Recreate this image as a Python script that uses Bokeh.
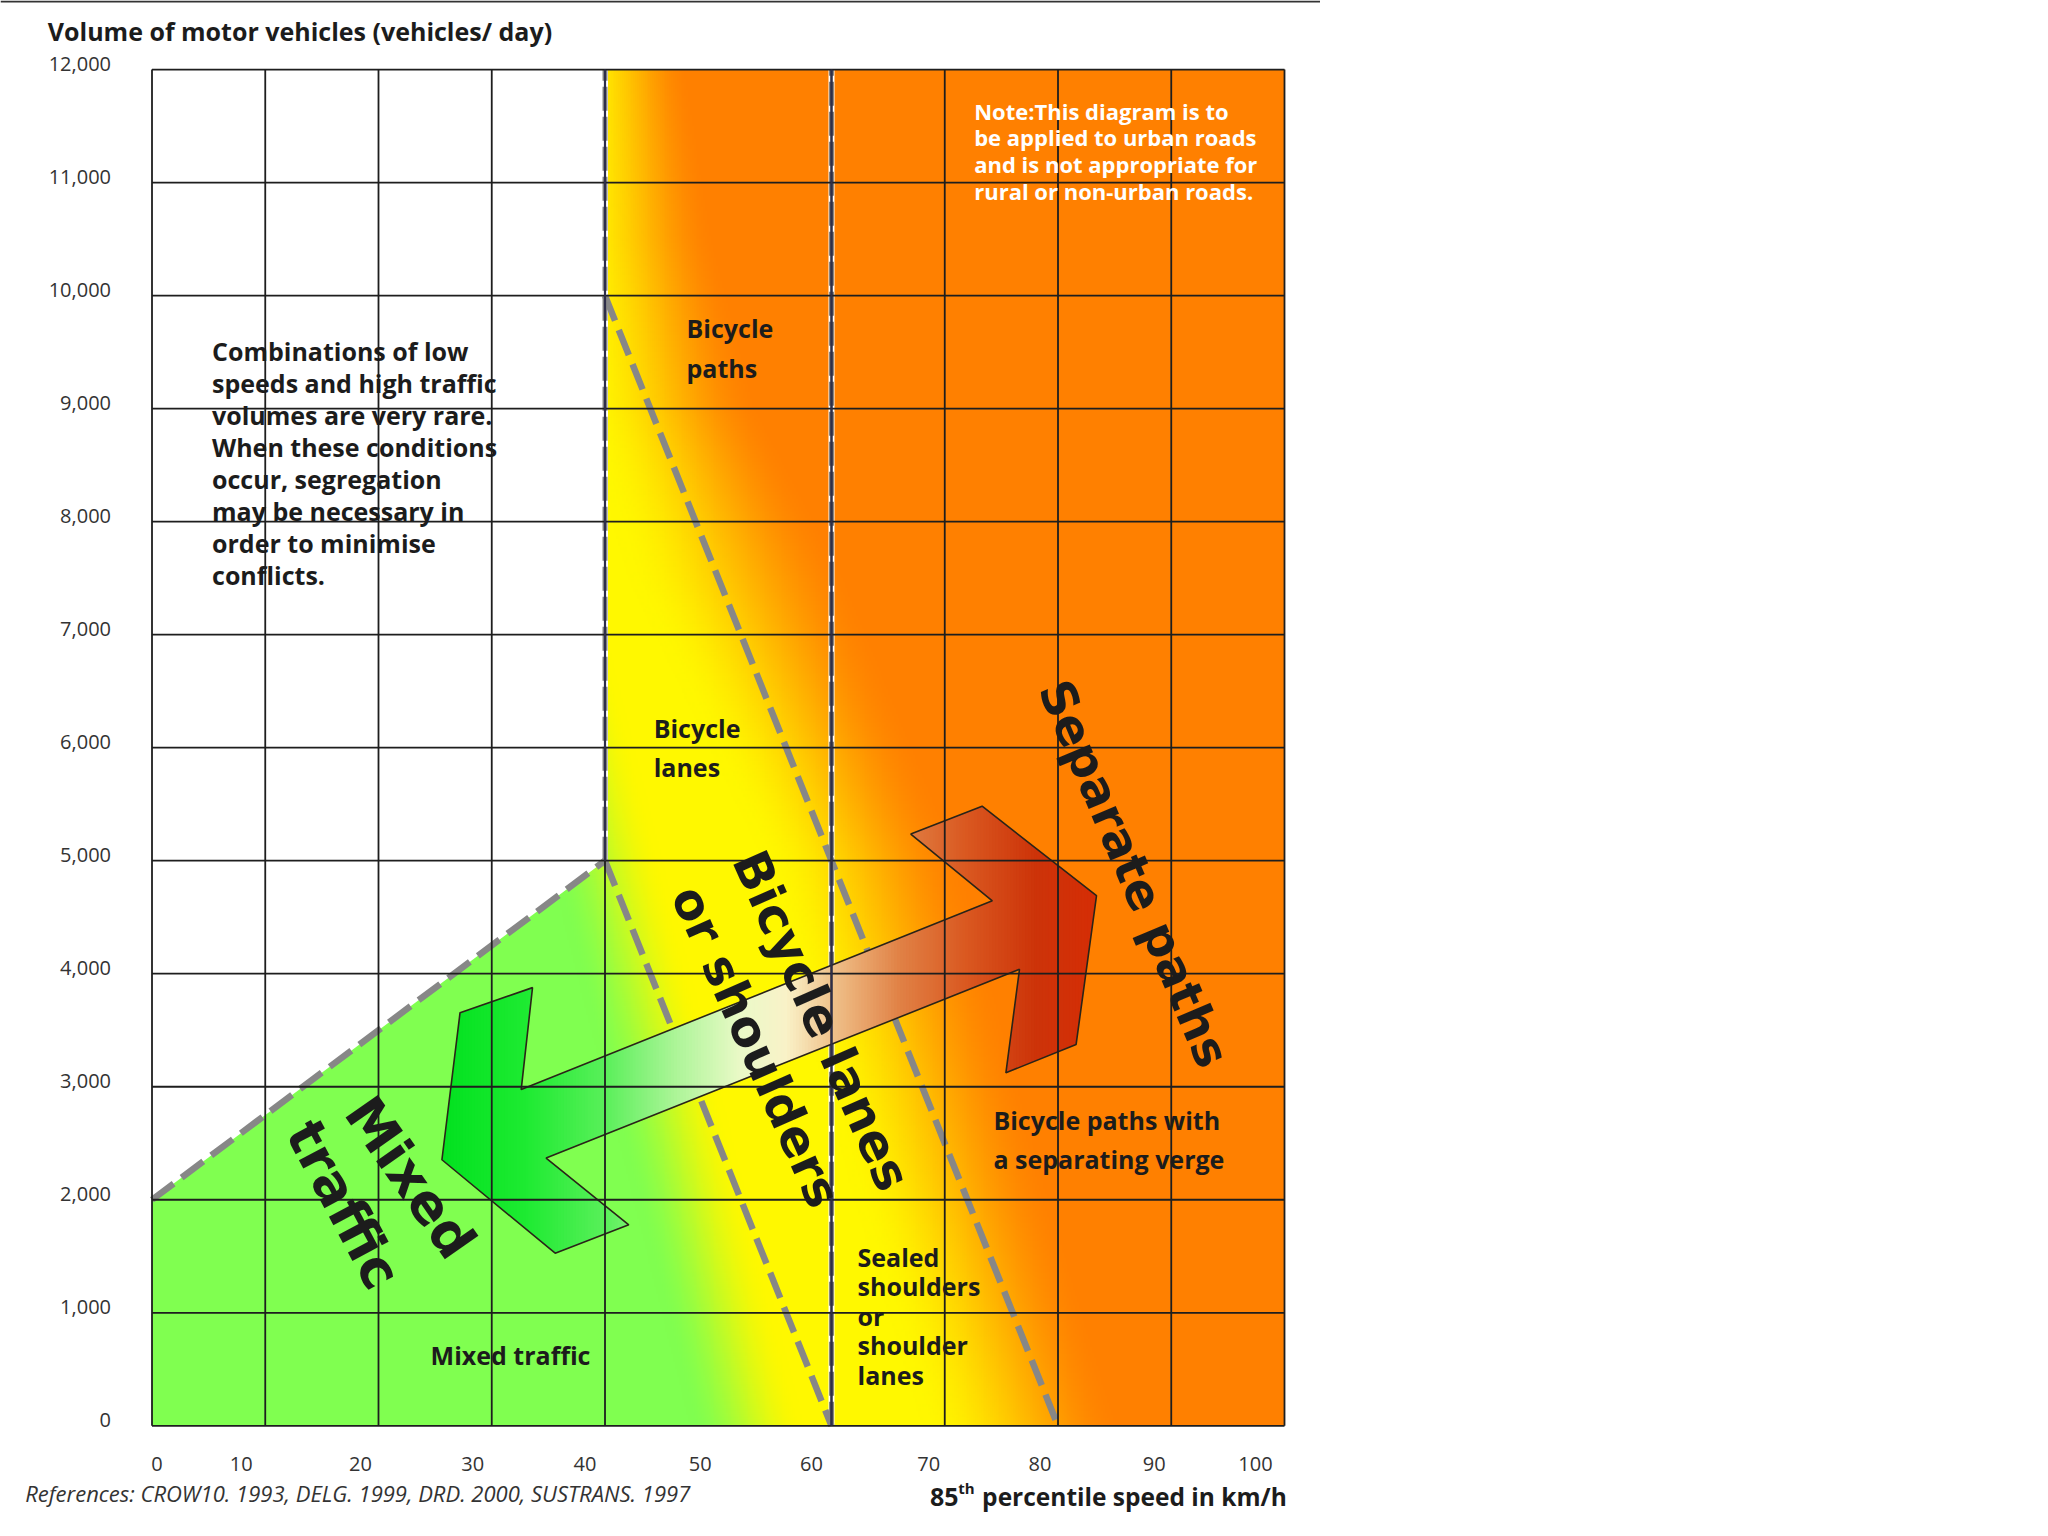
import numpy as np
from bokeh.plotting import figure
from bokeh.models import Range1d, Span
from bokeh.core.properties import value
from bokeh.embed import file_html
from bokeh.resources import INLINE

# ---------------- data ----------------
speed_ticks = [0, 10, 20, 30, 40, 50, 60, 70, 80, 90, 100]
speed_tick_labels = ["0", "10", "20", "30", "40", "50", "60", "70", "80", "90", "100"]
speed_gridlines = [0, 10, 20, 30, 40, 60, 70, 80, 90, 100]
volume_ticks = [0, 1000, 2000, 3000, 4000, 5000, 6000, 7000, 8000, 9000, 10000, 11000, 12000]
volume_tick_labels = ["0", "1,000", "2,000", "3,000", "4,000", "5,000", "6,000",
                      "7,000", "8,000", "9,000", "10,000", "11,000", "12,000"]

# zone boundaries (85th percentile speed km/h, vehicles/day)
mixed_limit_speed = [0, 40]
mixed_limit_volume = [2000, 5000]
lanes_limit_speed = [40, 60]
lanes_limit_volume = [5000, 0]
paths_limit_speed = [40, 80]
paths_limit_volume = [10000, 0]
divider_speed = [40, 60]
divider_from_volume = [5000, 0]
divider_to_volume = [12000, 12000]

# double-headed arrow outline
arrow_speed = [33.6, 32.6, 74.2, 67.0, 73.3, 83.4, 81.6, 75.4, 76.6, 34.8, 42.1, 35.6, 25.6, 27.2]
arrow_volume = [3877, 2975, 4645, 5236, 5482, 4690, 3374, 3123, 4039, 2369, 1778, 1527, 2354, 3655]

# ---------------- styling constants ----------------
TEXT = "#1c1c1c"
GRID = "#1e1e1e"
DASH = "#878787"
x_label_nudge_px = [5, -24, -18, -19, -20, -18, -20, -16, -18, -17, -29]

W, H = 1320, 1520
PX_X = 11.325      # px per km/h
PX_Y = 0.11302     # px per vehicle/day
X0_PX, Y0_PX = 151.5, 1425.3   # position of data origin inside the canvas

p = figure(width=W, height=H, output_backend="svg", toolbar_location=None,
           x_axis_location=None, y_axis_location=None, min_border=0,
           x_range=Range1d(-X0_PX / PX_X, (W - X0_PX) / PX_X),
           y_range=Range1d((Y0_PX - H) / PX_Y, Y0_PX / PX_Y))
p.grid.visible = False
p.outline_line_color = None
p.background_fill_color = "white"
p.border_fill_color = "white"

vmax = max(volume_ticks)
smax = max(speed_ticks)

# ---------------- background colour field ----------------
nx, ny = 600, 720
gx = (np.arange(nx) + 0.5) / nx * smax
gy = (np.arange(ny) + 0.5) / ny * vmax
X, Y = np.meshgrid(gx, gy)


def smooth(t):
    t = np.clip(t, 0, 1)
    return t * t * (3 - 2 * t)


c_green = np.array([128, 255, 80], dtype=float)
c_yellow = np.array([255, 248, 0], dtype=float)
c_orange = np.array([255, 128, 0], dtype=float)
g_center = 52.5 - Y / 400.0
t1 = smooth((X - g_center + 5) / 10.0)
o_center = np.interp(Y, [0, 2000, 5000, 7500, 9000, 10500, 12000], [77, 71, 63, 52, 46, 43.5, 42.5])
o_half = np.interp(Y, [0, 5000, 7500, 9000, 12000], [9, 9, 10, 8, 5])
t2 = smooth((X - o_center + o_half) / (2 * o_half))
rgb = c_green * (1 - t1)[..., None] + c_yellow * t1[..., None]
rgb = rgb * (1 - t2)[..., None] + c_orange * t2[..., None]
img = np.empty((ny, nx), dtype=np.uint32)
view = img.view(dtype=np.uint8).reshape((ny, nx, 4))
view[..., 0:3] = np.clip(rgb, 0, 255).astype(np.uint8)
view[..., 3] = 255
p.image_rgba(image=[img], x=0, y=0, dw=smax, dh=vmax)

# white "rare combinations" zone
p.patch([mixed_limit_speed[0], mixed_limit_speed[0], mixed_limit_speed[1], mixed_limit_speed[1]],
        [mixed_limit_volume[0], vmax, vmax, mixed_limit_volume[1]],
        fill_color="white", line_color=None)

# dividers: white underlay + dashes
p.segment(x0=divider_speed, y0=divider_from_volume, x1=divider_speed, y1=divider_to_volume,
          line_color="white", line_width=6)
p.segment(x0=divider_speed, y0=divider_from_volume, x1=divider_speed, y1=divider_to_volume,
          line_color=DASH, line_width=5, line_dash="24 6")
for sx, sy in [(mixed_limit_speed, mixed_limit_volume),
               (lanes_limit_speed, lanes_limit_volume),
               (paths_limit_speed, paths_limit_volume)]:
    p.line(sx, sy, line_color=DASH, line_width=6.5, line_dash="27 10")

# ---------------- arrow with colour gradient ----------------
knot_x = [25, 33, 40, 46, 52, 56, 60, 66, 72, 78, 84]
knot_r = [0, 30, 90, 170, 235, 250, 240, 225, 218, 205, 215]
knot_g = [225, 235, 240, 245, 250, 242, 195, 130, 88, 52, 45]
knot_b = [30, 50, 90, 150, 200, 200, 140, 70, 32, 10, 5]


def clip_strip(poly, xmin, xmax):
    def clip(pts, inside, xc):
        out = []
        for i in range(len(pts)):
            cur, prev = pts[i], pts[i - 1]
            ci, pi = inside(cur), inside(prev)
            if ci != pi:
                t = (xc - prev[0]) / (cur[0] - prev[0])
                out.append((xc, prev[1] + t * (cur[1] - prev[1])))
            if ci:
                out.append(cur)
        return out
    pts = clip(poly, lambda q: q[0] >= xmin, xmin)
    if not pts:
        return pts
    return clip(pts, lambda q: q[0] <= xmax, xmax)


poly = list(zip(arrow_speed, arrow_volume))
edges = np.linspace(min(arrow_speed), max(arrow_speed), 221)
step = edges[1] - edges[0]
sxs, sys_, scol = [], [], []
for a in edges[:-1]:
    pts = clip_strip(poly, a, min(a + step * 1.6, max(arrow_speed)))
    if len(pts) < 3:
        continue
    m = a + 0.5 * step
    r = int(np.interp(m, knot_x, knot_r))
    g = int(np.interp(m, knot_x, knot_g))
    bb = int(np.interp(m, knot_x, knot_b))
    sxs.append([q[0] for q in pts])
    sys_.append([q[1] for q in pts])
    scol.append("#%02x%02x%02x" % (r, g, bb))
p.patches(sxs, sys_, fill_color=scol, line_color=None)
p.patch(arrow_speed, arrow_volume, fill_color=None, line_color="#2a2418", line_width=1.6)

# ---------------- grid ----------------
p.segment(x0=0, x1=smax, y0=volume_ticks, y1=volume_ticks, line_color=GRID, line_width=1.8)
p.segment(x0=speed_gridlines, x1=speed_gridlines, y0=0, y1=vmax, line_color=GRID, line_width=1.8)
p.segment(x0=divider_speed, y0=divider_from_volume, x1=divider_speed, y1=divider_to_volume,
          line_color="#2e2e48", line_width=2.2)

# top rule of the page
p.add_layout(Span(location=(Y0_PX - 1) / PX_Y, dimension="width", line_color="#333333", line_width=2))

# ---------------- tick labels ----------------
p.text(x=[0] * len(volume_ticks), y=volume_ticks, text=volume_tick_labels,
       x_offset=-41, y_offset=-6, text_align="right", text_baseline="middle",
       text_font=value("Open Sans"), text_font_size="20px", text_color="#333333")
p.text(x=speed_ticks, y=[0] * len(speed_ticks), text=speed_tick_labels,
       x_offset=x_label_nudge_px, y_offset=38, text_align="center", text_baseline="middle",
       text_font=value("Open Sans"), text_font_size="20px", text_color="#333333")


def block(lines, x, y, dy, size=25, color=TEXT, style="bold", font="Open Sans"):
    n = len(lines)
    p.text(x=[x] * n, y=[y] * n, text=lines, y_offset=[i * dy for i in range(n)],
           text_font=value(font), text_font_style=style, text_font_size=f"{size}px",
           text_color=color, text_align="left", text_baseline="middle")


# titles / footers
block(["Volume of motor vehicles (vehicles/ day)"], -9.2, 12340, 0, size=25)
block(["References: CROW10. 1993, DELG. 1999, DRD. 2000, SUSTRANS. 1997"], -11.2, -599, 0,
      size=22, color="#333333", style="italic")
block(["85"], 68.7, -626, 0, size=25)
p.text(x=[71.2], y=[-626], text=["th"], y_offset=-9, text_font=value("Open Sans"),
       text_font_style="bold", text_font_size="15px", text_color=TEXT,
       text_align="left", text_baseline="middle")
block(["percentile speed in km/h"], 73.3, -626, 0, size=24.5)

# region notes
block(["Combinations of low", "speeds and high traffic", "volumes are very rare.",
       "When these conditions", "occur, segregation", "may be necessary in",
       "order to minimise", "conflicts."], 5.3, 9514, 32)
block(["Note:This diagram is to", "be applied to urban roads",
       "and is not appropriate for", "rural or non-urban roads."], 72.6, 11637, 26.8,
      size=22, color="white")
block(["Bicycle", "paths"], 47.2, 9709, 40)
block(["Bicycle", "lanes"], 44.3, 6174, 39)
block(["Bicycle paths with", "a separating verge"], 74.3, 2710, 39)
block(["Sealed", "shoulders", "or", "shoulder", "lanes"], 62.3, 1494, 29.4)
block(["Mixed traffic"], 24.6, 626, 0)

# large rotated zone names
big = [("Bicycle lanes", 59.1, 3584, -66, 50),
       ("or shoulders", 53.3, 3354, -66, 49),
       ("Separate paths", 86.75, 4887, -67, 48),
       ("Mixed", 22.8, 2196, -55, 54),
       ("traffic", 16.9, 1957, -62, 54)]
for txt, bx, by, ang, sz in big:
    p.text(x=[bx], y=[by], text=[txt], angle=np.deg2rad(ang),
           text_font=value("DejaVu Sans"), text_font_style="bold", text_font_size=f"{sz}px",
           text_color=TEXT, text_align="center", text_baseline="middle")

open("out.html", "w").write(file_html(p, INLINE))
